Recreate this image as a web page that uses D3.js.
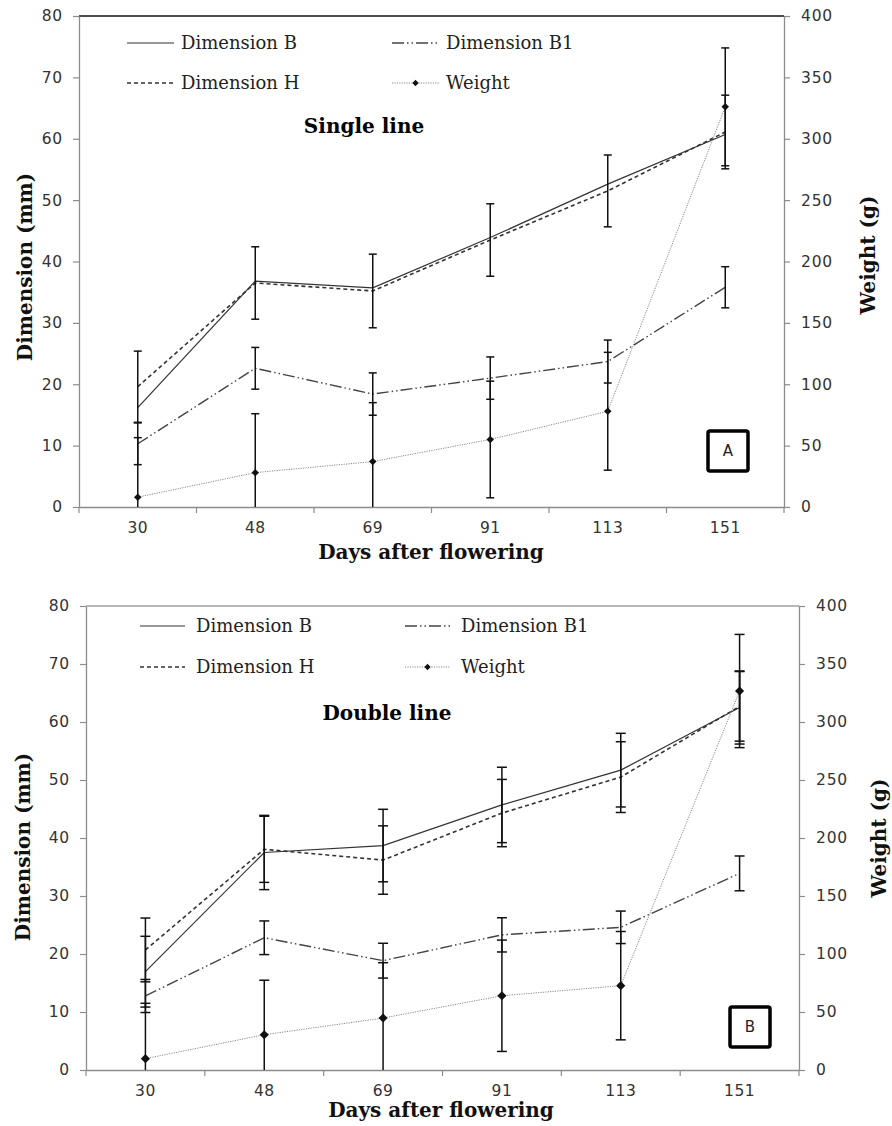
<!DOCTYPE html>
<html>
<head>
<meta charset="utf-8">
<script src="https://cdnjs.cloudflare.com/ajax/libs/d3/7.8.5/d3.min.js"></script>
<style>
  body { margin: 0; background: #fff; }
  svg { display: block; }
</style>
</head>
<body>
<svg width="892" height="1126"></svg>
<script>
// categories and ticks
const days = ["30", "48", "69", "91", "113", "151"];
const dimTicks = [0, 10, 20, 30, 40, 50, 60, 70, 80];
const weightTicks = [0, 50, 100, 150, 200, 250, 300, 350, 400];
const legendNames = ["Dimension B", "Dimension H", "Dimension B1", "Weight"];

// A - single line (dimensions in mm, weight in g)
const singleB = [16.2, 36.8, 35.7, 43.9, 52.6, 60.7];
const singleH = [19.6, 36.5, 35.2, 43.5, 51.5, 61.1];
const singleB1 = [10.3, 22.6, 18.4, 21.0, 23.7, 35.8];
const singleWeight = [8, 28, 37, 55, 78, 326];
const singleErrB = [0, 0, 0, 0, 0, 0];
const singleErrH = [5.8, 5.9, 6.0, 5.9, 5.85, 6.0];
const singleErrB1 = [3.4, 3.4, 3.45, 3.45, 3.5, 3.35];
const singleErrWeight = [48.5, 48, 48, 47.5, 48, 48];

// B - double line
const doubleB = [16.95, 37.5, 38.7, 45.7, 51.7, 62.5];
const doubleH = [20.7, 38.05, 36.2, 44.3, 50.5, 62.7];
const doubleB1 = [12.76, 22.8, 18.85, 23.3, 24.6, 33.9];
const doubleWeight = [9.8, 30.4, 44.8, 64, 72.7, 326.7];
const doubleErrB = [6.1, 6.4, 6.25, 6.5, 6.35, 6.3];
const doubleErrH = [5.5, 5.7, 5.9, 5.8, 6.1, 6.0];
const doubleErrB1 = [2.85, 2.9, 3.0, 2.95, 2.8, 3.0];
const doubleErrWeight = [47.7, 47, 47.7, 48, 46.7, 48.8];

let svg = d3.select("svg");

const panels = [
  {
    id: "a", title: "Single line", tag: "A",
    B: singleB, H: singleH, B1: singleB1, W: singleWeight,
    eB: singleErrB, eH: singleErrH, eB1: singleErrB1, eW: singleErrWeight,
    left: 79, right: 784, top: 16, bottom: 507, frame: "#111",
    titleX: 364, titleY: 133,
    legX: [127, 392], legY: [43, 83], sample: 47, textGap: 54,
    xTitleX: 431, xTitleY: 559, yTitleX: 32, yTitleY: 267, wTitleX: 875, wTitleY: 255,
    box: [708, 431], marker: 28, cap: 4
  },
  {
    id: "b", title: "Double line", tag: "B",
    B: doubleB, H: doubleH, B1: doubleB1, W: doubleWeight,
    eB: doubleErrB, eH: doubleErrH, eB1: doubleErrB1, eW: doubleErrWeight,
    left: 86, right: 799, top: 606, bottom: 1070, frame: "#a0a0a0",
    titleX: 387, titleY: 720,
    legX: [140, 405], legY: [626, 667], sample: 45, textGap: 56,
    xTitleX: 441, xTitleY: 1117, yTitleX: 30, yTitleY: 847, wTitleX: 886, wTitleY: 838,
    box: [730, 1007], marker: 42, cap: 5
  }
];

function styleAxis(sel) {
  sel.select(".domain").attr("stroke", "#8c8c8c").attr("stroke-width", 1.3);
  sel.selectAll(".tick line").attr("stroke", "#8c8c8c").attr("stroke-width", 1.2);
  sel.selectAll(".tick text")
    .attr("fill", "#333")
    .style("font-family", "'DejaVu Sans', Verdana, sans-serif")
    .style("font-size", "15.5px")
    .style("letter-spacing", "0.8px");
}

function drawPanel(p) {
  let g = svg.append("g");
  let x = d3.scaleBand().domain(days).range([p.left, p.right]);
  let y = d3.scaleLinear().domain([0, 80]).range([p.bottom, p.top]);
  let yw = d3.scaleLinear().domain([0, 400]).range([p.bottom, p.top]);
  let cx = d => x(d) + x.bandwidth() / 2;

  g.append("defs").append("clipPath").attr("id", "clip-" + p.id)
    .append("rect")
      .attr("x", p.left - 20).attr("y", p.top - 5)
      .attr("width", p.right - p.left + 40).attr("height", p.bottom - p.top + 5);

  // frame top line
  g.append("line")
    .attr("x1", p.left).attr("x2", p.right)
    .attr("y1", p.top).attr("y2", p.top)
    .attr("stroke", p.frame).attr("stroke-width", 1.5);

  // axes
  g.append("g")
    .attr("transform", `translate(${p.left},0)`)
    .call(d3.axisLeft(y).tickValues(dimTicks).tickSize(6).tickSizeOuter(0).tickPadding(10))
    .call(styleAxis);

  g.append("g")
    .attr("transform", `translate(${p.right},0)`)
    .call(d3.axisRight(yw).tickValues(weightTicks).tickSize(6).tickSizeOuter(0).tickPadding(11))
    .call(styleAxis);

  let xAx = g.append("g")
    .attr("transform", `translate(0,${p.bottom})`)
    .call(d3.axisBottom(x).tickSize(0).tickSizeOuter(0).tickPadding(15))
    .call(styleAxis);
  xAx.selectAll(".tick text").style("letter-spacing", "0.5px");

  let edges = days.map(d => x(d)).concat(x.range()[1]);
  g.selectAll("line.xedge")
    .data(edges)
    .join("line")
      .attr("class", "xedge")
      .attr("x1", d => d).attr("x2", d => d)
      .attr("y1", p.bottom).attr("y2", p.bottom + 6)
      .attr("stroke", "#8c8c8c").attr("stroke-width", 1.2);

  let series = [
    {vals: p.B, err: p.eB, sc: y, dash: null, w: 1.2, color: "#333"},
    {vals: p.H, err: p.eH, sc: y, dash: "4,3", w: 1.6, color: "#333"},
    {vals: p.B1, err: p.eB1, sc: y, dash: "12,3,1.5,3,1.5,3", w: 1.4, color: "#444"},
    {vals: p.W, err: p.eW, sc: yw, dash: "1.2,1.2", w: 1, color: "#8a8a8a"}
  ];

  // lines
  series.forEach(s => {
    let line = d3.line()
      .x((d, i) => cx(days[i]))
      .y(d => s.sc(d));
    g.append("path")
      .datum(s.vals)
      .attr("d", line)
      .attr("fill", "none")
      .attr("stroke", s.color)
      .attr("stroke-width", s.w)
      .attr("stroke-dasharray", s.dash);
  });

  // error bars
  let eb = g.append("g").attr("clip-path", `url(#clip-${p.id})`);
  series.forEach(s => {
    let pts = s.vals.map((v, i) => ({x: cx(days[i]), lo: s.sc(v - s.err[i]), hi: s.sc(v + s.err[i]), e: s.err[i]}))
      .filter(d => d.e > 0);
    eb.selectAll(null).data(pts).join("line")
      .attr("x1", d => d.x).attr("x2", d => d.x)
      .attr("y1", d => d.lo).attr("y2", d => d.hi)
      .attr("stroke", "#111").attr("stroke-width", 1.5);
    pts.forEach(d => {
      [d.lo, d.hi].forEach(yy => {
        eb.append("line")
          .attr("x1", d.x - p.cap).attr("x2", d.x + p.cap)
          .attr("y1", yy).attr("y2", yy)
          .attr("stroke", "#111").attr("stroke-width", 1.5);
      });
    });
  });

  // weight markers
  g.selectAll("path.mk")
    .data(p.W)
    .join("path")
      .attr("class", "mk")
      .attr("d", d3.symbol(d3.symbolSquare, p.marker))
      .attr("transform", (d, i) => `translate(${cx(days[i])},${yw(d)}) rotate(45)`)
      .attr("fill", "#111");

  // legend
  let leg = g.append("g");
  legendNames.forEach((name, k) => {
    let s = series[k];
    let col = (k === 2 || k === 3) ? 1 : 0;
    let row = (k === 1 || k === 3) ? 1 : 0;
    let lx = p.legX[col], ly = p.legY[row];
    leg.append("line")
      .attr("x1", lx).attr("x2", lx + p.sample)
      .attr("y1", ly).attr("y2", ly)
      .attr("stroke", s.color)
      .attr("stroke-width", s.w)
      .attr("stroke-dasharray", s.dash);
    if (k === 3) {
      leg.append("path")
        .attr("d", d3.symbol(d3.symbolSquare, 20))
        .attr("transform", `translate(${lx + p.sample / 2},${ly}) rotate(45)`)
        .attr("fill", "#111");
    }
    leg.append("text")
      .attr("x", lx + p.textGap).attr("y", ly)
      .attr("dy", "0.36em")
      .attr("fill", "#222")
      .style("font-family", "'DejaVu Serif', serif")
      .style("font-size", "18px")
      .text(name);
  });

  // panel title
  g.append("text")
    .attr("x", p.titleX).attr("y", p.titleY)
    .attr("text-anchor", "middle")
    .style("font-family", "'DejaVu Serif', serif")
    .style("font-weight", "bold")
    .style("font-size", "20px")
    .text(p.title);

  // tag box
  g.append("rect")
    .attr("x", p.box[0]).attr("y", p.box[1])
    .attr("width", 40).attr("height", 40)
    .attr("rx", 2)
    .attr("fill", "#fff").attr("stroke", "#000").attr("stroke-width", 3.5);
  g.append("text")
    .attr("x", p.box[0] + 20).attr("y", p.box[1] + 20)
    .attr("dy", "0.36em")
    .attr("text-anchor", "middle")
    .style("font-family", "'DejaVu Sans', sans-serif")
    .style("font-size", "15px")
    .attr("fill", "#222")
    .text(p.tag);

  // axis titles
  let titleStyle = t => t
    .attr("text-anchor", "middle")
    .style("font-family", "'DejaVu Serif', serif")
    .style("font-weight", "bold")
    .style("font-size", "20px")
    .attr("fill", "#111");

  g.append("text")
    .attr("x", p.xTitleX).attr("y", p.xTitleY)
    .call(titleStyle)
    .text("Days after flowering");

  g.append("text")
    .attr("transform", `translate(${p.yTitleX},${p.yTitleY}) rotate(-90)`)
    .call(titleStyle)
    .text("Dimension (mm)");

  g.append("text")
    .attr("transform", `translate(${p.wTitleX},${p.wTitleY}) rotate(-90)`)
    .call(titleStyle)
    .text("Weight (g)");
}

panels.forEach(drawPanel);
</script>
</body>
</html>
